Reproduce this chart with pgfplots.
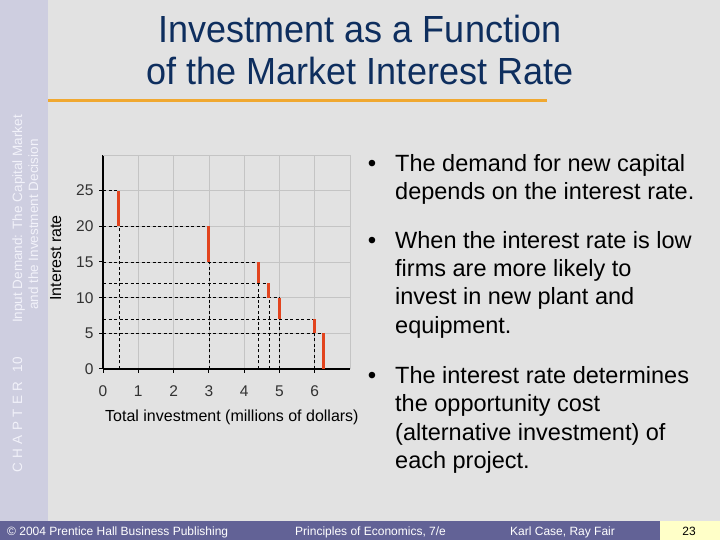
\documentclass[border=0pt]{standalone}
\usepackage{pgfplots}
\pgfplotsset{compat=1.18}
\usepackage{fontspec}
\setmainfont{Liberation Sans}

\definecolor{slidebg}{RGB}{226,226,226}
\definecolor{stripbg}{RGB}{206,206,224}
\definecolor{striptxt}{RGB}{242,242,250}
\definecolor{titleblue}{RGB}{14,46,94}
\definecolor{rulecol}{RGB}{240,168,48}
\definecolor{footbar}{RGB}{98,98,150}
\definecolor{footbox}{RGB}{255,255,200}
\definecolor{stepred}{RGB}{226,68,30}
\definecolor{gridgray}{RGB}{196,196,196}
\definecolor{ticklab}{RGB}{50,50,50}

\newcommand\fs[1]{\fontsize{#1bp}{#1bp}\selectfont}

\begin{document}
\begin{tikzpicture}
\useasboundingbox (0,0) rectangle (720bp,540bp);
\fill[slidebg] (0,0) rectangle (720bp,540bp);
\fill[stripbg] (0,18.5bp) rectangle (48bp,540bp);
\fill[footbar] (0,0) rectangle (660bp,18.5bp);
\fill[footbox] (660bp,0) rectangle (720bp,18.5bp);
\draw[rulecol, line width=3bp] (48bp,439bp) -- (547bp,439bp);

% title
\node[anchor=base, inner sep=0, text=titleblue, yscale=1.05] at (360bp,497bp) {\fs{36}Investment as a Function};
\node[anchor=base, inner sep=0, text=titleblue, yscale=1.05] at (360bp,455bp) {\fs{36}of the Market Interest Rate};

% side strip
\node[rotate=90, anchor=base west, inner sep=0, text=striptxt] at (22bp,67bp) {\fs{13.5}C\,\,H\,\,A\,\,P\,\,T\,\,E\,\,R\,\,\,\,10};
\node[rotate=90, anchor=base west, inner sep=0, text=striptxt] at (22bp,217bp) {\fs{13.5}Input Demand: The Capital Market};
\node[rotate=90, anchor=base west, inner sep=0, text=striptxt] at (38bp,230bp) {\fs{13.5}and the Investment Decision};

\begin{axis}[
  at={(103bp,171bp)}, anchor=south west,
  scale only axis, width=247bp, height=214bp,
  xmin=0, xmax=7, ymin=0, ymax=30,
  axis lines=left, axis line style={-, line width=1.8bp, black},
  xtick={0,...,6}, ytick={0,5,...,25},
  extra x ticks={7}, extra y ticks={30},
  extra x tick labels={}, extra y tick labels={},
  extra tick style={major tick length=0pt},
  grid=major, grid style={gridgray, line width=0.6bp},
  tick style={black, line width=1bp}, major tick length=4bp, tick align=outside,
  ticklabel style={font=\fs{15.5}, text=ticklab},
  xticklabel style={yshift=-9bp},
  yticklabel style={xshift=-2bp},
  /pgf/number format/assume math mode=true,
  clip=false,
]
% dashed guides
\addplot[black, line width=0.6bp, dash pattern=on 3bp off 2.5bp, unbounded coords=jump] coordinates {
  (0,25) (0.45,25) (0,nan)
  (0,20) (3,20) (0,nan)
  (0,15) (4.4,15) (0,nan)
  (0,12) (4.7,12) (0,nan)
  (0,10) (5,10) (0,nan)
  (0,7) (6,7) (0,nan)
  (0,5) (6.25,5) (0,nan)
  (0.45,0) (0.45,20) (0,nan)
  (3,0) (3,15) (0,nan)
  (4.4,0) (4.4,12) (0,nan)
  (4.7,0) (4.7,10) (0,nan)
  (5,0) (5,7) (0,nan)
  (6,0) (6,5)
};
% red steps
\addplot[stepred, line width=3bp, unbounded coords=jump] coordinates {
  (0.45,20) (0.45,25) (0,nan)
  (3,15) (3,20) (0,nan)
  (4.4,12) (4.4,15) (0,nan)
  (4.7,10) (4.7,12) (0,nan)
  (5,7) (5,10) (0,nan)
  (6,5) (6,7) (0,nan)
  (6.25,0) (6.25,5)
};
\end{axis}

% axis titles
\node[rotate=90, anchor=base, inner sep=0] at (61bp,282bp) {\fs{16}Interest rate};
\node[anchor=base west, inner sep=0] at (105bp,118.3bp) {\fs{16}Total investment (millions of dollars)};

% bullets
\foreach \yy in {368.3,291.7,156.7}
  \node[anchor=base, inner sep=0] at (372bp,\yy bp) {\fs{24}•};
\node[anchor=base west, inner sep=0] at (395bp,368.3bp) {\fs{23.5}The demand for new capital};
\node[anchor=base west, inner sep=0] at (395bp,340bp) {\fs{23.5}depends on the interest rate.};
\node[anchor=base west, inner sep=0] at (395bp,291.7bp) {\fs{23.5}When the interest rate is low};
\node[anchor=base west, inner sep=0] at (395bp,263.3bp) {\fs{23.5}firms are more likely to};
\node[anchor=base west, inner sep=0] at (395bp,235bp) {\fs{23.5}invest in new plant and};
\node[anchor=base west, inner sep=0] at (395bp,206.7bp) {\fs{23.5}equipment.};
\node[anchor=base west, inner sep=0] at (395bp,156.7bp) {\fs{23.5}The interest rate determines};
\node[anchor=base west, inner sep=0] at (395bp,128.3bp) {\fs{23.5}the opportunity cost};
\node[anchor=base west, inner sep=0] at (395bp,99.3bp) {\fs{23.5}(alternative investment) of};
\node[anchor=base west, inner sep=0] at (395bp,71.7bp) {\fs{23.5}each project.};

% footer
\node[anchor=base west, inner sep=0, text=white] at (7bp,5bp) {\fs{12}© 2004 Prentice Hall Business Publishing};
\node[anchor=base west, inner sep=0, text=white] at (295bp,5bp) {\fs{12}Principles of Economics, 7/e};
\node[anchor=base west, inner sep=0, text=white] at (510bp,5bp) {\fs{12}Karl Case, Ray Fair};
\node[anchor=base, inner sep=0, text=black] at (689bp,5bp) {\fs{12}23};
\end{tikzpicture}
\end{document}
